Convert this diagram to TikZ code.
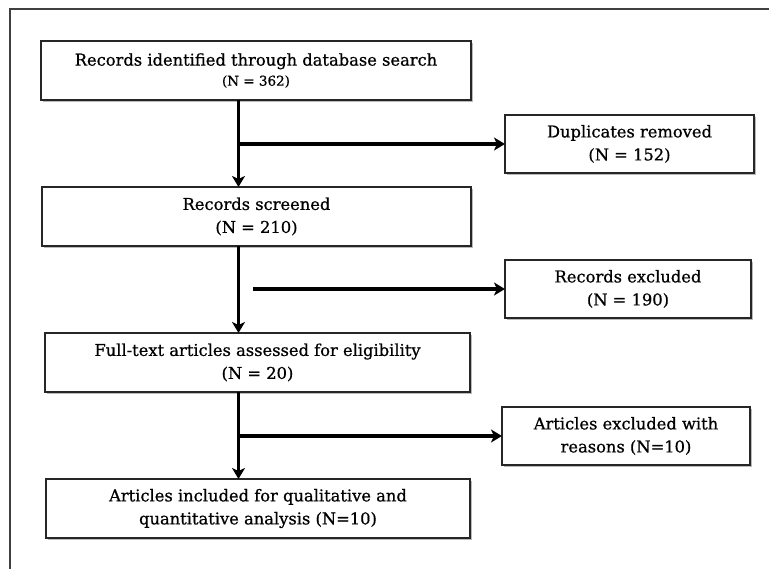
\documentclass[tikz,border=0pt]{standalone}
\usepackage{fontspec}
\setmainfont{DejaVu Serif}
\newfontfamily\boxfont{DejaVu Serif}[FakeBold=0.7]
\usetikzlibrary{arrows.meta,shadows}
\begin{document}
\begin{tikzpicture}[x=1pt,y=-1pt,
  box/.style={draw=black!85, line width=1.4pt, fill=white, inner sep=0pt, outer sep=0pt,
    align=center, font=\boxfont\fontsize{16.3}{23}\selectfont,
    drop shadow={shadow xshift=1.8pt, shadow yshift=-2.4pt, opacity=0.45, fill=black!60}},
  arr/.style={line width=3.6pt, -{Stealth[length=11pt,width=13pt,inset=3pt]}},
  frameline/.style={line width=1.2pt, draw=black!75}]
\useasboundingbox (0,0) rectangle (769,569);
\draw[frameline] (10,569) -- (10,9) -- (769,9);
\node[box, minimum width=430pt, minimum height=59pt] (b1) at (256,70.5)
  {Records identified through database search\\[-3pt]{\fontsize{13.5}{15}\selectfont(N = 362)}};
\node[box, minimum width=429pt, minimum height=59pt] (b2) at (256.5,216.5)
  {Records screened\\(N = 210)};
\node[box, minimum width=425pt, minimum height=59pt] (b3) at (257.5,362.5)
  {Full-text articles assessed for eligibility\\(N = 20)};
\node[box, minimum width=424pt, minimum height=59pt] (b4) at (258,508.5)
  {Articles included for qualitative and\\quantitative analysis (N=10)};
\node[box, minimum width=249pt, minimum height=58pt] (d1) at (629.5,144)
  {Duplicates removed\\(N = 152)};
\node[box, minimum width=246pt, minimum height=58pt] (d2) at (628,289)
  {Records excluded\\(N = 190)};
\node[box, minimum width=248pt, minimum height=58pt] (d3) at (626,436)
  {Articles excluded with\\reasons (N=10)};
\coordinate (axis) at (238.5,0);
\coordinate (s2) at (253,289);
\draw[arr] (axis |- b1.south) -- (axis |- b2.north);
\draw[arr] (axis |- b2.south) -- (axis |- b3.north);
\draw[arr] (axis |- b3.south) -- (axis |- b4.north);
\draw[arr] (axis |- d1.west) -- (d1.west);
\draw[arr] (s2) -- (d2.west);
\draw[arr] (axis |- d3.west) -- (d3.west);
\end{tikzpicture}
\end{document}
